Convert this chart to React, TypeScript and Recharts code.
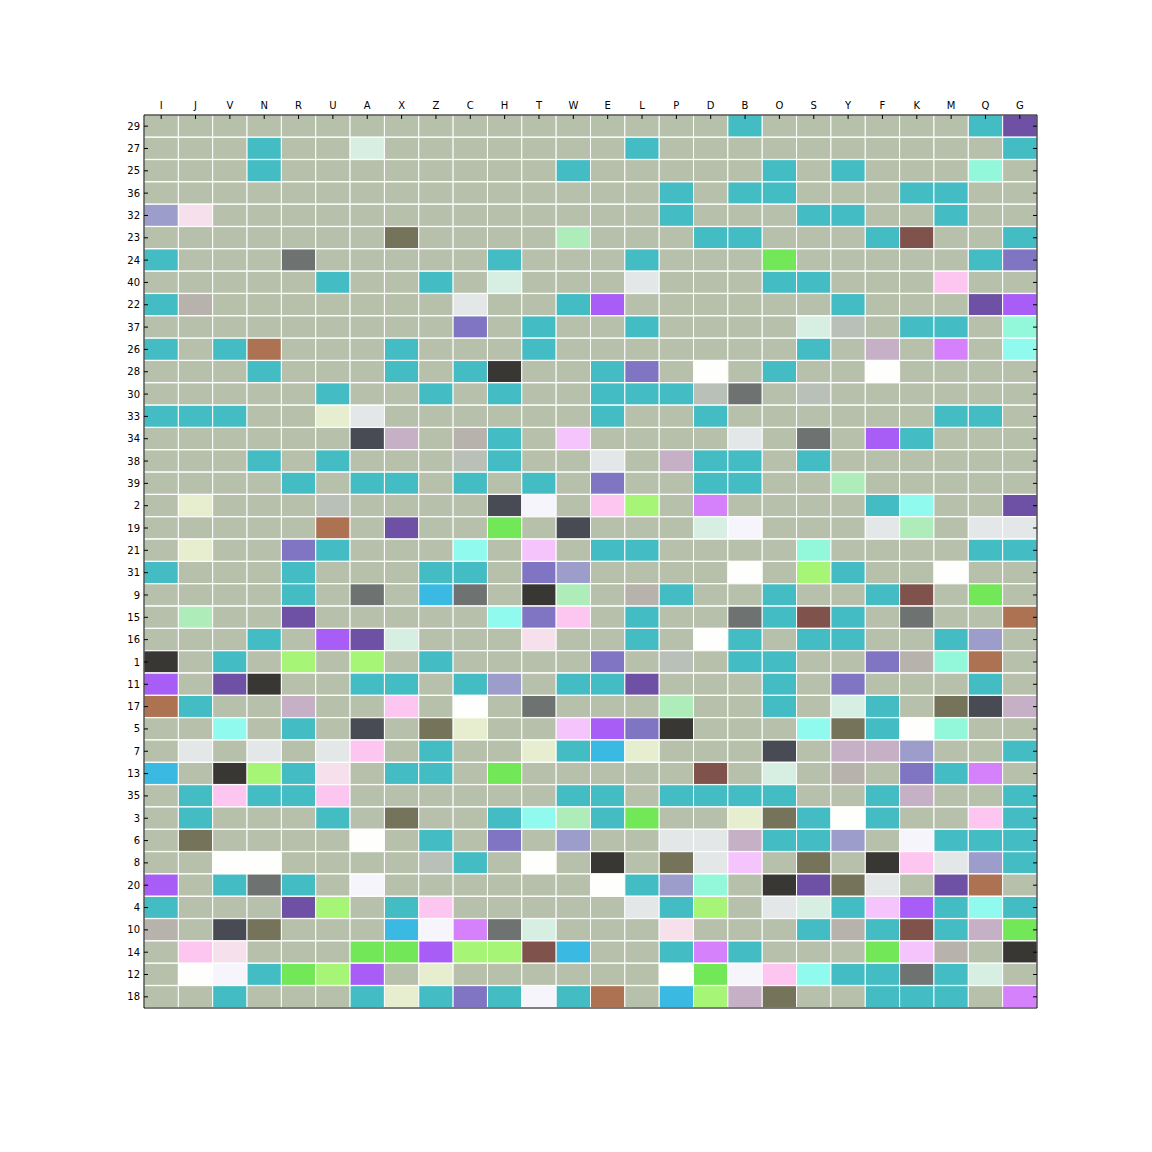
import { Bar, BarChart, Cell, XAxis, YAxis } from 'recharts';

// column categories (top axis, left to right)
const cols = ['I', 'J', 'V', 'N', 'R', 'U', 'A', 'X', 'Z', 'C', 'H', 'T', 'W',
  'E', 'L', 'P', 'D', 'B', 'O', 'S', 'Y', 'F', 'K', 'M', 'Q', 'G'];

// row categories (left axis, top to bottom)
const rows = ['29', '27', '25', '36', '32', '23', '24', '40', '22', '37',
  '26', '28', '30', '33', '34', '38', '39', '2', '19', '21',
  '31', '9', '15', '16', '1', '11', '17', '5', '7', '13',
  '35', '3', '6', '8', '20', '4', '10', '14', '12', '18'];

// one colour code per cell, see palette below ('.' = base colour)
const cellCodes = [
  '.................t......tp',
  '...t..m.......t..........t',
  '...t........t.....t.t...a.',
  '...............t.tt...tt..',
  'bL.............t...tt..t..',
  '.......o....g...tt...tr..t',
  't...d.....t...t...G.....tl',
  '.....t..t.m...e...tt...n..',
  'tT.......e..tv......t...pv',
  '.........l.t..t....mE.tt.a',
  't.tR...t...t.......t.M.P.c',
  '...t...t.tk..tl.w.t..w....',
  '.....t..t.t..tttEd.E......',
  'ttt..Ye......t..t......tt.',
  '......sM.Tt.N....e.d.vt...',
  '...t.t...Et..e.Mtt.t......',
  '....t.tt.t.t.l..tt..g.....',
  '.Y...E....sW.ny.P....tc..p',
  '.....R.p..G.s...mW...eg.ee',
  '.Y..lt...c.N.tt....a....tt',
  't...t...tt.lb....w.yt..w..',
  '....t.d.Bd.kg.Tt..t..tr.G.',
  '.g..p.....cln.t..dtrt.d..R',
  '...t.vpm...L..t.wt.tt..tb.',
  'k.t.y.y.t....l.E.tt..lTaR.',
  'v.pk..tt.tb.ttp...t.l...t.',
  'Rt..M..n.w.d...g..t.mt.osM',
  '..c.t.s.oY..Nvlk...cotwa..',
  '.e.e.en.t..YtBY...s.MMb..t',
  'B.kytL.tt.G.....r.m.T.ltP.',
  '.tnttn......tt.tttt..tM..t',
  '.t...t.o..tcgtG..Yotwt..nt',
  '.o....w.t.l.b..eeMttb.Wttt',
  '..ww....Et.w.k.oeN.o.knebt',
  'v.tdt.W......wtba.kpoe.pR.',
  't...py.tn.....ety.emtNvtct',
  'T.so...BWPdm...L...tTtrtMG',
  '.nL...GGvyyrB..tPt...GNT.k',
  '.wWtGyv.Y......wGWncttdtm.',
  '..t...tYtltWtR.ByMo..ttt.P',
];

const palette: Record<string, string> = {
  '.': '#b7c0ab',
  t: '#43bcc4',
  p: '#6e51a4',
  v: '#a95df7',
  l: '#8075c3',
  b: '#9d9dcb',
  m: '#d7efe3',
  a: '#93f8da',
  c: '#90faee',
  g: '#aeecba',
  G: '#72e757',
  y: '#a6f576',
  o: '#76735b',
  k: '#393734',
  s: '#494b54',
  d: '#6e7270',
  r: '#7f534b',
  R: '#ac7252',
  n: '#fdc6f0',
  N: '#f5c4fd',
  P: '#d481fb',
  L: '#f6e0ec',
  w: '#fefefc',
  W: '#f5f5fb',
  e: '#e3e7e7',
  E: '#b9c0b7',
  T: '#b8b2ad',
  M: '#c6b0c6',
  B: '#3ab9e3',
  Y: '#e6eecf',
};

const colTicks = cols.map((_, i) => i + 0.5);

const data = rows.map((row) => {
  const d: Record<string, string | number> = { row };
  cols.forEach((c) => { d[c] = 1; });
  return d;
});

const tickStyle = { fill: '#000', fontSize: 10, fontFamily: 'DejaVu Sans' };
const frame = { stroke: '#000', strokeWidth: 1 };
const emptyTick = () => <g />;

export default function App() {
  return (
    <div style={{ position: 'absolute', left: 0, top: 0, width: 1152, height: 1152, background: '#fff' }}>
      <BarChart
        layout="vertical"
        width={1152}
        height={1152}
        data={data}
        margin={{ top: 85, right: 114, bottom: 143, left: 114 }}
        barCategoryGap={0}
        barGap={0}
      >
        {cols.map((c, ci) => (
          <Bar key={c} dataKey={c} stackId="grid" xAxisId="top" isAnimationActive={false} stroke="#fff" strokeWidth={1}>
            {rows.map((r, ri) => (
              <Cell key={r} fill={palette[cellCodes[ri][ci]] ?? palette['.']} />
            ))}
          </Bar>
        ))}
        <XAxis
          xAxisId="top"
          orientation="top"
          type="number"
          domain={[0, 26]}
          ticks={colTicks}
          interval={0}
          tickFormatter={(v: number) => cols[Math.floor(v)]}
          height={30}
          tickSize={-4}
          tickMargin={10}
          axisLine={frame}
          tickLine={frame}
          tick={tickStyle}
        />
        <XAxis xAxisId="bottom" orientation="bottom" type="number" domain={[0, 26]} height={1} tick={false} axisLine={frame} />
        <YAxis
          type="category"
          dataKey="row"
          width={30}
          interval={0}
          tickSize={-4}
          tickMargin={8}
          axisLine={frame}
          tickLine={frame}
          tick={tickStyle}
        />
        <YAxis
          yAxisId="right"
          orientation="right"
          type="category"
          dataKey="row"
          width={1}
          interval={0}
          tickSize={-4}
          tick={emptyTick}
          axisLine={frame}
          tickLine={frame}
        />
      </BarChart>
    </div>
  );
}
